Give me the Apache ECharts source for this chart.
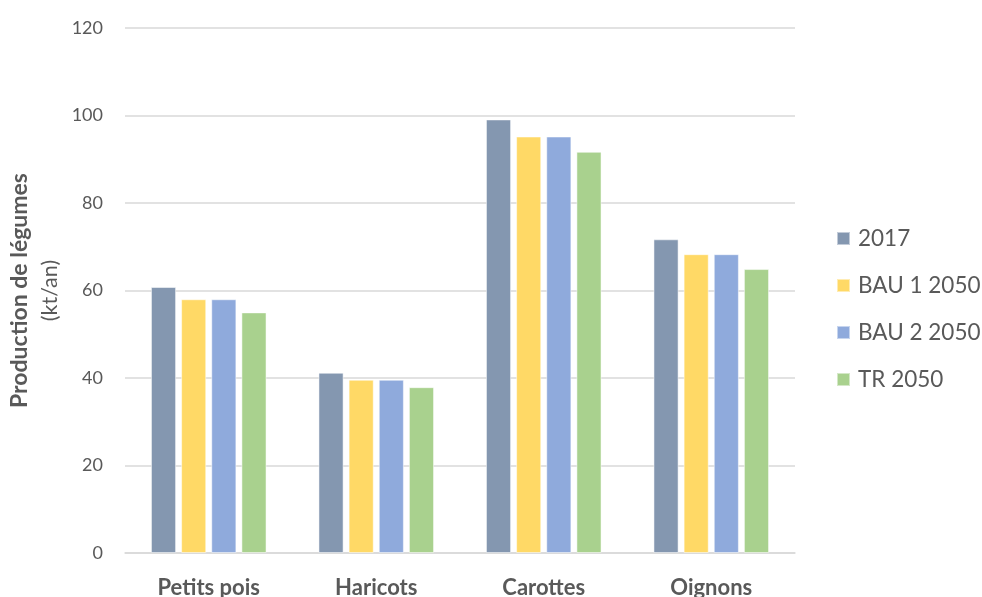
<!DOCTYPE html>
<html>
<head>
<meta charset="utf-8">
<script src="https://cdn.jsdelivr.net/npm/echarts@6/dist/echarts.min.js"></script>
<style>
  html, body { margin: 0; padding: 0; background: #fff; }
  #chart { width: 982px; height: 597px; }
</style>
</head>
<body>
<div id="chart"></div>
<script>
var categories = ['Petits pois', 'Haricots', 'Carottes', 'Oignons'];
var seriesNames = ['2017', 'BAU 1 2050', 'BAU 2 2050', 'TR 2050'];
var v2017 = [60.8, 41.2, 99.1, 71.7];
var vBau1 = [58.0, 39.6, 95.2, 68.3];
var vBau2 = [58.0, 39.6, 95.2, 68.3];
var vTr = [55.0, 37.9, 91.7, 64.9];
var colors = ['#8497b0', '#ffd966', '#8faadc', '#a9d18e'];

var chart = echarts.init(document.getElementById('chart'));

function bar(name, data, color) {
  return {
    name: name,
    type: 'bar',
    data: data,
    barGap: '20%',
    barCategoryGap: '31%',
    itemStyle: { color: color, borderColor: 'rgba(255,255,255,0.5)', borderWidth: 1 }
  };
}

var option = {
  backgroundColor: '#ffffff',
  animation: false,
  textStyle: { fontFamily: 'Lato' },
  grid: { left: 125, right: 187, top: 28, bottom: 44, containLabel: false, outerBoundsMode: 'none' },
  legend: {
    orient: 'vertical',
    left: 836,
    top: 227,
    padding: 0,
    itemWidth: 13,
    itemHeight: 13,
    itemGap: 24,
    icon: 'rect',
    textStyle: { color: '#595959', fontSize: 22.5, fontFamily: 'Lato', padding: [0, 0, 0, 3] },
    data: seriesNames
  },
  xAxis: {
    type: 'category',
    data: categories,
    axisLine: { lineStyle: { color: '#d9d9d9', width: 1.5 } },
    axisTick: { show: false },
    axisLabel: { color: '#595959', fontSize: 22, fontWeight: 'bold', margin: 24 }
  },
  yAxis: {
    type: 'value',
    min: 0,
    max: 120,
    interval: 20,
    axisLine: { show: false },
    axisTick: { show: false },
    axisLabel: { color: '#595959', fontSize: 18, margin: 22 },
    splitLine: { lineStyle: { color: '#d9d9d9', width: 1.5 } },
    name: '{b|Production de légumes}\n{n|(kt/an)}',
    nameLocation: 'middle',
    nameRotate: 90,
    nameGap: 60,
    nameTextStyle: {
      align: 'center',
      rich: {
        b: { fontSize: 23, fontWeight: 'bold', color: '#595959', lineHeight: 30, fontFamily: 'Lato' },
        n: { fontSize: 21.5, color: '#595959', lineHeight: 30, fontFamily: 'Lato' }
      }
    }
  },
  series: [
    bar(seriesNames[0], v2017, colors[0]),
    bar(seriesNames[1], vBau1, colors[1]),
    bar(seriesNames[2], vBau2, colors[2]),
    bar(seriesNames[3], vTr, colors[3])
  ]
};

chart.setOption(option);
</script>
</body>
</html>
